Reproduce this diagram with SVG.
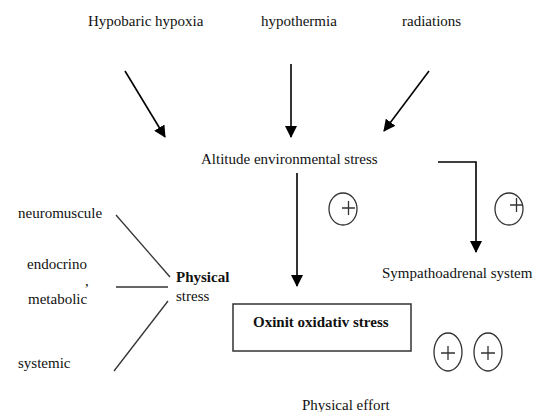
<svg xmlns="http://www.w3.org/2000/svg" width="534" height="412" viewBox="0 0 534 412">
<defs>
<marker id="ah" viewBox="0 0 12 12" refX="11" refY="6" markerWidth="12" markerHeight="12" markerUnits="userSpaceOnUse" orient="auto">
<path d="M0,0 L12,6 L0,12 Z" fill="#000"/>
</marker>
</defs>
<style>
text{font-family:"Liberation Serif","Times New Roman",serif;font-size:15px;fill:#111}
.b{font-weight:bold}
.ln{stroke:#333;stroke-width:1.3;fill:none}
.ar{stroke:#000;stroke-width:1.6;fill:none}
.el{stroke:#333;stroke-width:1.3;fill:none}
</style>
<rect width="534" height="412" fill="#fff"/>
<g id="connectors">
<line class="ar" x1="125" y1="71" x2="165" y2="137" marker-end="url(#ah)"/>
<line class="ar" x1="291" y1="64" x2="291" y2="137" marker-end="url(#ah)"/>
<line class="ar" x1="429" y1="71" x2="384" y2="131" marker-end="url(#ah)"/>
<line class="ar" x1="297" y1="173" x2="297" y2="286" marker-end="url(#ah)"/>
<polyline class="ar" points="438,162 476,162 476,252" marker-end="url(#ah)"/>
<line class="ln" x1="116" y1="215" x2="170" y2="277"/>
<line class="ln" x1="116" y1="287" x2="168" y2="287"/>
<line class="ln" x1="168" y1="301" x2="114" y2="371"/>
</g>
<g id="hypobaric"><text x="88" y="26">Hypobaric hypoxia</text></g>
<g id="hypothermia"><text x="261" y="26">hypothermia</text></g>
<g id="radiations"><text x="402" y="26">radiations</text></g>
<g id="altitude"><text x="201" y="164">Altitude environmental stress</text></g>
<g id="plus1"><ellipse class="el" cx="343" cy="209" rx="14" ry="16"/><path class="ln" d="M342,208 H355 M348.5,201 V215"/></g>
<g id="plus2"><ellipse class="el" cx="509" cy="209" rx="14" ry="16"/><path class="ln" d="M510,205 H523 M516.5,198 V212"/></g>
<g id="neuromuscule"><text x="18" y="218">neuromuscule</text></g>
<g id="endocrino"><text x="27" y="269">endocrino</text><text x="85" y="286">,</text><text x="28" y="304">metabolic</text></g>
<g id="systemic"><text x="18" y="368">systemic</text></g>
<g id="physical-stress"><text class="b" x="176" y="282">Physical</text><text x="176" y="301">stress</text></g>
<g id="sympathoadrenal"><text x="382" y="278">Sympathoadrenal system</text></g>
<g id="oxinit"><rect x="233" y="304" width="178" height="47" fill="none" stroke="#333" stroke-width="1.5"/><text class="b" x="253" y="327">Oxinit oxidativ stress</text></g>
<g id="plus3"><ellipse class="el" cx="448" cy="352" rx="14" ry="19"/><path class="ln" d="M441,353 H455 M448,346 V360"/></g>
<g id="plus4"><ellipse class="el" cx="488" cy="352" rx="14" ry="19"/><path class="ln" d="M481,353 H495 M488,346 V360"/></g>
<g id="physical-effort"><text x="302" y="410">Physical effort</text></g>
</svg>
